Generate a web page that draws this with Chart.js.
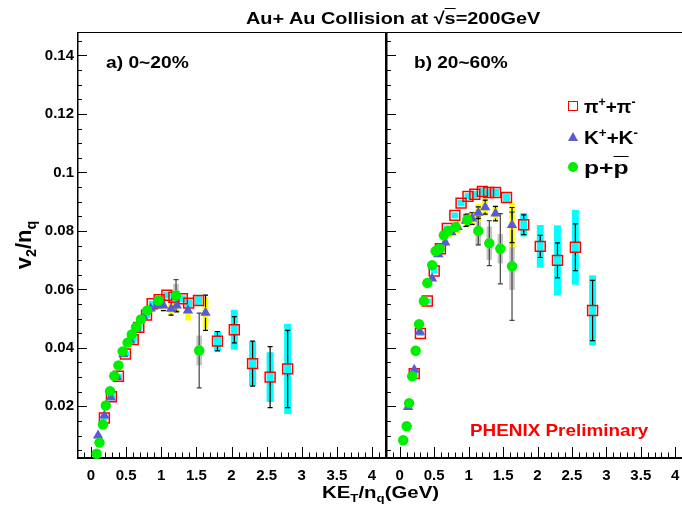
<!DOCTYPE html>
<html>
<head>
<meta charset="utf-8">
<script src="https://cdn.jsdelivr.net/npm/chart.js@4.4.1/dist/chart.umd.min.js"></script>
<style>
  body { margin:0; width:682px; height:510px; overflow:hidden; position:relative; background:#fff;
         font-family:"Liberation Sans", Arial, sans-serif; font-weight:bold; color:#000; }
  .txt { position:absolute; white-space:nowrap; line-height:1; transform-origin:0 50%; }
  .txt sup, .txt sub { font-size:65%; line-height:0; }
  #left  { position:absolute; left:0;     top:0; width:388px; height:510px; }
  #right { position:absolute; left:385px; top:0; width:306px; height:510px; }
  .mk { position:absolute; }
</style>
</head>
<body>
<div id="left"><canvas id="c1"></canvas></div>
<div id="right"><canvas id="c2"></canvas></div>

<div class="txt" style="left:246px;top:10px;font-size:17px;transform:scaleX(1.17)">Au+ Au Collision at &radic;<span style="text-decoration:overline">s</span>=200GeV</div>
<div class="txt" style="left:106px;top:55px;font-size:16px;transform:scaleX(1.2)">a) 0~20%</div>
<div class="txt" style="left:414px;top:55px;font-size:16px;transform:scaleX(1.19)">b) 20~60%</div>

<div class="mk" style="left:568px;top:101px;width:8px;height:8px;border:1.5px solid #f00"></div>
<div class="mk" style="left:568px;top:132px;width:0;height:0;border-left:5.5px solid transparent;border-right:5.5px solid transparent;border-bottom:9px solid #5a5ad6"></div>
<div class="mk" style="left:568px;top:162px;width:10px;height:10px;border-radius:50%;background:#00ee00"></div>
<div class="txt" style="left:584px;top:97px;font-size:19px">&pi;<sup>+</sup>+&pi;<sup>-</sup></div>
<div class="txt" style="left:584px;top:128px;font-size:19px;transform:scaleX(1.08)">K<sup>+</sup>+K<sup>-</sup></div>
<div class="txt" style="left:584px;top:158px;font-size:19px;transform:scaleX(1.3)">p+<span style="text-decoration:overline">p</span></div>

<div class="txt" style="left:470px;top:422px;font-size:17px;color:#f00;transform:scaleX(1.11)">PHENIX Preliminary</div>
<div class="txt" style="left:322px;top:484px;font-size:17px;transform:scaleX(1.2)">KE<sub>T</sub>/n<sub>q</sub>(GeV)</div>
<div class="txt" style="left:-26px;top:234px;width:100px;text-align:center;font-size:22px;transform-origin:50% 50%;transform:rotate(-90deg)">v<sub>2</sub>/n<sub>q</sub></div>

<script>
// ---- a) 0~20% ----
const piLeftX    = [0.19,0.29,0.39,0.49,0.60,0.68,0.79,0.87,0.97,1.08,1.18,1.30,1.39,1.53,1.80,2.04,2.30,2.55,2.80];
const piLeftV    = [0.0160,0.0233,0.0303,0.0379,0.0428,0.0470,0.0512,0.0551,0.0565,0.0580,0.0573,0.0568,0.0553,0.0562,0.0423,0.0462,0.0346,0.0300,0.0328];
const piLeftStat = [0.0003,0.0003,0.0003,0.0004,0.0004,0.0005,0.0006,0.0007,0.0008,0.0010,0.0011,0.0012,0.0013,0.0015,0.0033,0.0045,0.0077,0.0104,0.0132];
const piLeftSys  = [0.0007,0.0007,0.0008,0.0008,0.0009,0.0009,0.0010,0.0010,0.0011,0.0011,0.0012,0.0012,0.0013,0.0015,0.0034,0.0068,0.0076,0.0085,0.0154];

const kLeftX    = [0.10,0.19,0.28,0.37,0.46,0.56,0.65,0.75,0.85,0.94,1.03,1.14,1.22,1.38,1.63];
const kLeftV    = [0.0100,0.0169,0.0230,0.0300,0.0378,0.0425,0.0465,0.0505,0.0535,0.0545,0.0545,0.0534,0.0545,0.0528,0.0520];
const kLeftStat = [0.0003,0.0003,0.0003,0.0004,0.0005,0.0006,0.0008,0.0010,0.0012,0.0015,0.0018,0.0022,0.0022,0.0015,0.0060];
const kLeftSys  = [0.0004,0.0004,0.0005,0.0006,0.0007,0.0008,0.0010,0.0012,0.0014,0.0016,0.0018,0.0020,0.0022,0.0034,0.0054];

const pLeftX    = [0.08,0.12,0.17,0.21,0.27,0.33,0.39,0.45,0.52,0.58,0.64,0.71,0.80,0.96,1.21,1.54];
const pLeftV    = [0.0038,0.0076,0.0138,0.0203,0.0252,0.0304,0.0340,0.0388,0.0418,0.0446,0.0471,0.0497,0.0528,0.0562,0.0579,0.0391];
const pLeftStat = [0.0002,0.0002,0.0002,0.0003,0.0003,0.0003,0.0004,0.0004,0.0005,0.0005,0.0006,0.0007,0.0009,0.0015,0.0054,0.0128];
const pLeftSys  = [0.0002,0.0002,0.0003,0.0003,0.0003,0.0004,0.0004,0.0005,0.0005,0.0006,0.0006,0.0007,0.0008,0.0010,0.0040,0.0051];

// ---- b) 20~60% ----
const piRightX    = [0.21,0.30,0.40,0.50,0.59,0.69,0.80,0.89,0.99,1.09,1.20,1.29,1.39,1.55,1.80,2.04,2.29,2.55,2.80];
const piRightV    = [0.0312,0.0449,0.0560,0.0663,0.0739,0.0808,0.0853,0.0895,0.0918,0.0925,0.0935,0.0931,0.0931,0.0914,0.0821,0.0747,0.0699,0.0744,0.0528];
const piRightStat = [0.0003,0.0003,0.0003,0.0004,0.0004,0.0005,0.0006,0.0007,0.0008,0.0009,0.0010,0.0011,0.0012,0.0015,0.0034,0.0038,0.0060,0.0080,0.0103];
const piRightSys  = [0.0007,0.0008,0.0008,0.0009,0.0009,0.0010,0.0010,0.0011,0.0011,0.0012,0.0012,0.0013,0.0013,0.0015,0.0040,0.0073,0.0120,0.0128,0.0120];

const kRightX    = [0.12,0.21,0.29,0.47,0.56,0.66,0.75,0.84,0.96,1.05,1.14,1.24,1.39,1.63];
const kRightV    = [0.0198,0.0325,0.0455,0.0637,0.0720,0.0760,0.0795,0.0813,0.0835,0.0842,0.0862,0.0881,0.0859,0.0820];
const kRightStat = [0.0003,0.0003,0.0004,0.0005,0.0008,0.0010,0.0012,0.0015,0.0020,0.0020,0.0020,0.0024,0.0025,0.0060];
const kRightSys  = [0.0005,0.0005,0.0006,0.0008,0.0010,0.0012,0.0015,0.0020,0.0023,0.0025,0.0030,0.0030,0.0025,0.0077];

const pRightX    = [0.05,0.10,0.135,0.18,0.23,0.28,0.35,0.40,0.47,0.52,0.58,0.64,0.70,0.81,0.98,1.14,1.30,1.46,1.63];
const pRightV    = [0.0084,0.0132,0.0211,0.0303,0.0390,0.0481,0.0560,0.0622,0.0683,0.0731,0.0739,0.0785,0.0800,0.0813,0.0838,0.0800,0.0758,0.0739,0.0679];
const pRightStat = [0.0003,0.0003,0.0003,0.0003,0.0004,0.0004,0.0005,0.0005,0.0006,0.0007,0.0008,0.0009,0.0010,0.0012,0.0020,0.0048,0.0077,0.0120,0.0185];
const pRightSys  = [0.0003,0.0003,0.0003,0.0003,0.0004,0.0004,0.0005,0.0005,0.0006,0.0006,0.0007,0.0008,0.0009,0.0010,0.0015,0.0050,0.0057,0.0050,0.0081];

const xTicks = [0,0.5,1,1.5,2,2.5,3,3.5,4];
const yTicks = [0.02,0.04,0.06,0.08,0.1,0.12,0.14];

function pts(xs, vs) { return xs.map((x, i) => ({x: x, y: vs[i]})); }

// frame + inward ticks (ROOT style)
const frameTicks = {
  id: 'frameTicks',
  beforeDatasetsDraw(chart) {
    const {ctx, chartArea: a, scales: {x, y}} = chart;
    ctx.save();
    ctx.strokeStyle = '#000';
    ctx.lineWidth = 1;
    ctx.beginPath();
    ctx.moveTo(a.left, a.top + 0.5); ctx.lineTo(a.right, a.top + 0.5);
    ctx.moveTo(a.right - 0.5, a.top); ctx.lineTo(a.right - 0.5, a.bottom);
    ctx.stroke();
    ctx.lineWidth = 1.5;
    ctx.beginPath();
    ctx.moveTo(a.left + 0.75, a.top); ctx.lineTo(a.left + 0.75, a.bottom);
    ctx.stroke();
    ctx.lineWidth = 2;
    ctx.beginPath();
    ctx.moveTo(a.left, a.bottom - 1); ctx.lineTo(a.right, a.bottom - 1);
    ctx.stroke();
    ctx.lineWidth = 1;
    ctx.beginPath();
    for (let k = -1; k <= 42; k++) {
      const px = Math.round(x.getPixelForValue(k / 10)) + 0.5;
      if (px <= a.left + 1 || px >= a.right) continue;
      const len = k % 5 === 0 ? 11 : 5.5;
      ctx.moveTo(px, a.bottom - 1); ctx.lineTo(px, a.bottom - 1 - len);
    }
    for (let k = 1; k <= 29; k++) {
      const py = Math.round(y.getPixelForValue(k * 0.005)) + 0.5;
      const len = k % 4 === 0 ? 10 : 5;
      ctx.moveTo(a.left, py); ctx.lineTo(a.left + len, py);
    }
    ctx.stroke();
    ctx.restore();
  }
};

// systematic boxes and statistical error bars
const errorBars = {
  id: 'errorBars',
  beforeDatasetsDraw(chart) {
    const {ctx, chartArea: a, scales: {x, y}} = chart;
    ctx.save();
    ctx.beginPath();
    ctx.rect(a.left, a.top, a.right - a.left, a.bottom - a.top);
    ctx.clip();
    const sets = chart.data.datasets;
    sets.forEach(ds => {
      ctx.fillStyle = ds.sysColor;
      ds.data.forEach((p, i) => {
        const x0 = x.getPixelForValue(p.x - ds.boxHalf), x1 = x.getPixelForValue(p.x + ds.boxHalf);
        const y0 = y.getPixelForValue(p.y + ds.sys[i]), y1 = y.getPixelForValue(p.y - ds.sys[i]);
        ctx.fillRect(x0, y0, x1 - x0, y1 - y0);
      });
    });
    sets.forEach(ds => {
      ctx.strokeStyle = ds.statColor;
      ctx.lineWidth = 1.2;
      ds.data.forEach((p, i) => {
        const px = x.getPixelForValue(p.x), py = y.getPixelForValue(p.y);
        const top = y.getPixelForValue(p.y + ds.stat[i]), bot = y.getPixelForValue(p.y - ds.stat[i]);
        ctx.beginPath();
        if (top < py - ds.gap) {
          ctx.moveTo(px, top); ctx.lineTo(px, py - ds.gap);
          ctx.moveTo(px - 2.5, top); ctx.lineTo(px + 2.5, top);
        }
        if (bot > py + ds.gap) {
          ctx.moveTo(px, bot); ctx.lineTo(px, py + ds.gap);
          ctx.moveTo(px - 2.5, bot); ctx.lineTo(px + 2.5, bot);
        }
        ctx.stroke();
      });
    });
    ctx.restore();
  }
};

function makeChart(id, pi, k, p, isLeft) {
  return new Chart(document.getElementById(id), {
    type: 'scatter',
    data: {
      datasets: [
        { label: 'p', data: pts(p[0], p[1]), stat: p[2], sys: p[3], order: 0,
          sysColor: '#c4c4c4', statColor: '#444', boxHalf: 0.04, gap: 5,
          pointStyle: 'circle', pointRadius: 5.2, backgroundColor: '#00ee00', borderColor: '#00ee00', borderWidth: 0 },
        { label: 'K', data: pts(k[0], k[1]), stat: k[2], sys: k[3], order: 1,
          sysColor: '#ffff00', statColor: '#000', boxHalf: 0.04, gap: 5,
          pointStyle: 'triangle', pointRadius: 6, backgroundColor: '#5a5ad6', borderColor: '#5a5ad6', borderWidth: 0 },
        { label: 'pi', data: pts(pi[0], pi[1]), stat: pi[2], sys: pi[3], order: 2,
          sysColor: '#00ffff', statColor: '#000', boxHalf: 0.05, gap: 5,
          pointStyle: 'rect', pointRadius: 7, backgroundColor: 'rgba(0,0,0,0)', borderColor: '#ff0000', borderWidth: 1.5 }
      ]
    },
    options: {
      responsive: true,
      maintainAspectRatio: false,
      animation: false,
      layout: { autoPadding: false,
                padding: isLeft ? {left: 0, right: 2, top: 32, bottom: 0} : {left: 1, right: 2, top: 32, bottom: 0} },
      plugins: { legend: { display: false }, tooltip: { enabled: false } },
      scales: {
        x: {
          type: 'linear', min: -0.2, max: 4.2,
          afterBuildTicks: s => { s.ticks = xTicks.map(v => ({value: v})); },
          afterFit: s => { s.height = 51; s.paddingLeft = 0; s.paddingRight = 0; },
          grid: { display: false, drawTicks: false },
          border: { display: false },
          ticks: { autoSkip: false, maxRotation: 0, padding: 8, color: '#000',
                   font: { family: 'Liberation Sans', size: 15, weight: 'bold' },
                   callback: v => String(v) }
        },
        y: {
          type: 'linear', min: 0.002, max: 0.148, display: isLeft,
          afterBuildTicks: s => { s.ticks = yTicks.map(v => ({value: v})); },
          afterFit: s => { s.width = isLeft ? 77 : 0; s.paddingTop = 0; s.paddingBottom = 0; },
          grid: { display: false, drawTicks: false },
          border: { display: false },
          ticks: { autoSkip: false, padding: 3, color: '#000',
                   font: { family: 'Liberation Sans', size: 15, weight: 'bold' },
                   callback: v => String(Number(v.toFixed(3))) }
        }
      }
    },
    plugins: [frameTicks, errorBars]
  });
}

makeChart('c1', [piLeftX, piLeftV, piLeftStat, piLeftSys], [kLeftX, kLeftV, kLeftStat, kLeftSys],
          [pLeftX, pLeftV, pLeftStat, pLeftSys], true);
makeChart('c2', [piRightX, piRightV, piRightStat, piRightSys], [kRightX, kRightV, kRightStat, kRightSys],
          [pRightX, pRightV, pRightStat, pRightSys], false);
</script>
</body>
</html>
